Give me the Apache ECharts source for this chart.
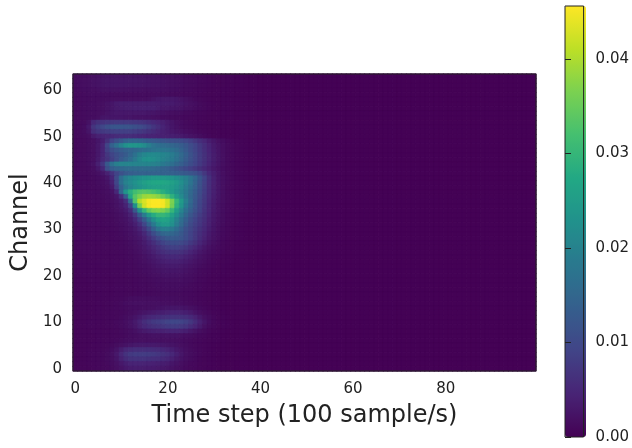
<!DOCTYPE html>
<html>
<head>
<meta charset="utf-8">
<title>Channel heatmap</title>
<script src="https://cdn.jsdelivr.net/npm/echarts@6/dist/echarts.min.js"></script>
<style>
html, body { margin: 0; padding: 0; background: #fff; }
#chart { width: 632px; height: 448px; }
</style>
</head>
<body>
<div id="chart"></div>
<script>
var barTicks = [0, 0.01, 0.02, 0.03, 0.04];
var barMax = 0.0456;
var valueUnit = 0.0001;
var tailValue = 1; // everything right of step 39 is flat background
var stepCount = 100;

// one row per channel, 63 first, steps 0..39 in valueUnit
var rows = [
[14,15,16,18,20,22,24,25,26,26,26,26,26,25,25,24,24,23,22,21,20,19,17,15,13,12,11,10,9,8,7,6,6,5,5,4,4,3,3,3],
[14,16,18,20,22,24,26,27,28,28,28,28,27,27,26,26,25,24,23,22,21,20,18,16,14,13,12,11,9,8,7,6,6,5,5,4,4,3,3,3],
[14,16,18,20,22,24,26,27,27,27,27,27,26,26,26,25,25,24,23,22,21,20,18,16,14,13,12,10,9,8,7,6,6,5,5,4,4,3,3,3],
[13,14,16,17,18,20,22,22,22,22,22,22,21,21,21,20,20,20,19,19,18,17,16,14,13,12,10,9,8,7,6,6,5,5,4,4,3,3,3,3],
[12,13,14,15,16,16,16,16,16,15,15,15,15,15,15,15,15,15,15,15,14,14,13,12,11,10,9,8,7,6,6,5,5,4,4,3,3,3,3,2],
[12,13,14,14,15,15,16,17,18,18,18,18,18,18,18,18,20,24,28,30,30,30,28,24,20,15,11,10,8,7,6,6,5,5,4,4,3,3,3,2],
[12,13,14,15,16,18,20,24,28,34,36,36,36,36,36,36,36,36,34,34,34,34,30,28,24,20,16,13,10,8,7,6,5,5,4,4,3,3,3,2],
[12,13,14,15,16,18,20,24,28,32,34,36,36,38,38,38,38,38,34,30,30,28,26,24,20,18,14,12,10,8,7,6,5,5,4,4,3,3,3,2],
[12,13,14,15,16,18,20,24,28,30,30,30,30,30,30,30,28,26,24,22,20,18,17,15,13,12,10,9,8,7,6,5,5,4,4,3,3,3,3,2],
[12,13,14,15,16,20,26,28,28,28,28,26,26,24,24,22,22,20,18,16,15,14,13,12,11,10,9,8,7,6,6,5,4,4,4,3,3,3,2,2],
[12,13,14,22,50,62,66,70,72,74,74,74,72,70,68,64,58,52,46,40,32,26,20,16,13,11,9,8,7,6,5,5,4,4,3,3,3,3,2,2],
[12,13,16,30,68,84,96,110,118,120,120,118,116,110,104,94,84,70,58,45,36,28,22,17,14,12,10,8,7,6,5,5,4,4,3,3,3,3,2,2],
[12,13,16,26,58,70,76,80,84,86,86,86,84,80,76,70,64,56,48,42,36,30,26,22,18,15,12,10,8,7,6,5,4,4,3,3,3,3,2,2],
[12,13,14,18,32,42,46,48,52,56,58,58,58,56,52,48,46,44,42,42,40,38,36,32,28,24,20,15,11,8,6,5,4,4,3,3,3,2,2,2],
[11,12,13,15,20,28,38,62,90,110,125,140,150,150,148,140,134,130,125,120,115,112,110,105,96,86,72,60,48,36,28,20,15,11,8,6,5,4,3,3],
[11,12,13,15,20,30,46,92,140,170,200,228,238,238,232,218,195,175,165,160,155,150,142,132,120,104,90,74,58,44,32,24,18,13,9,7,5,4,3,3],
[11,12,13,15,20,30,46,84,108,122,132,140,146,152,158,164,170,175,178,178,176,168,158,142,126,108,92,76,60,46,34,25,18,13,9,7,5,4,3,3],
[11,12,13,15,20,30,46,72,92,106,118,130,148,170,194,208,216,216,212,206,200,190,175,155,135,115,96,78,62,48,36,26,19,13,9,7,5,4,3,3],
[11,12,13,15,20,32,50,66,84,104,126,142,160,184,208,226,230,225,215,205,195,185,170,150,130,112,95,78,62,48,36,26,19,13,9,7,5,4,3,3],
[11,12,13,15,22,40,70,125,170,195,205,205,205,205,205,205,205,200,195,185,175,165,150,135,120,105,90,76,60,46,34,25,18,13,9,7,5,4,3,3],
[11,12,13,14,18,30,50,108,135,146,152,156,158,158,158,158,158,155,150,145,138,128,118,108,97,86,74,62,50,40,30,22,16,12,9,7,5,4,3,3],
[11,12,12,13,15,20,28,42,66,92,112,126,134,138,140,140,140,140,140,140,140,138,135,130,125,118,110,95,72,52,38,26,18,13,9,7,5,4,3,3],
[11,12,12,13,14,16,20,28,50,100,160,192,208,218,228,236,240,245,245,245,240,235,225,210,195,175,150,120,90,62,42,28,20,14,10,7,5,4,3,3],
[11,11,12,12,13,15,18,24,42,95,165,200,215,230,244,256,265,270,272,272,268,258,245,225,200,175,145,115,85,60,42,28,20,14,10,7,5,4,3,3],
[11,11,12,12,13,14,16,20,32,80,140,180,205,220,232,244,252,256,258,258,255,248,235,215,190,165,138,110,82,58,40,27,19,13,9,7,5,4,3,3],
[11,11,11,12,12,13,15,18,24,50,150,235,285,315,330,335,330,320,305,285,265,245,225,205,180,155,130,105,80,57,40,27,19,13,9,7,5,4,3,3],
[10,11,11,11,12,13,14,16,20,28,60,130,270,335,365,385,390,385,375,355,330,290,250,215,180,150,125,100,76,55,38,26,18,13,9,7,5,4,3,3],
[10,10,11,11,12,12,13,15,18,24,34,60,160,330,405,430,450,455,456,450,420,365,300,245,195,155,120,95,72,52,36,25,18,13,9,6,5,4,3,3],
[10,10,10,11,11,12,13,14,17,22,30,44,90,225,360,425,450,456,456,450,420,360,290,235,185,148,118,92,70,50,35,24,17,12,9,6,5,4,3,3],
[10,10,10,10,11,11,12,13,15,19,25,34,56,125,225,300,345,365,370,365,345,300,250,205,165,135,110,88,66,48,33,23,16,12,8,6,5,4,3,3],
[10,10,10,10,10,11,12,13,14,17,21,28,40,72,130,190,245,280,300,300,290,260,225,185,150,122,100,80,62,45,31,22,15,11,8,6,4,3,3,3],
[10,10,10,10,10,10,11,12,13,15,19,24,32,50,85,130,180,225,255,265,260,235,200,165,135,110,90,74,58,42,30,21,15,11,8,6,4,3,3,3],
[9,9,10,10,10,10,11,12,12,14,17,21,27,38,60,95,140,185,225,245,245,225,190,155,125,102,84,70,54,40,28,20,14,10,7,5,4,3,3,2],
[9,9,9,10,10,10,10,11,12,13,15,19,24,31,44,68,102,140,175,195,195,180,160,135,112,94,78,64,50,36,26,18,13,9,7,5,4,3,3,2],
[9,9,9,9,10,10,10,11,11,12,14,17,21,26,34,50,75,105,130,150,155,150,140,125,108,90,74,60,46,33,24,17,12,9,6,5,4,3,3,2],
[9,9,9,9,9,10,10,10,11,12,13,15,19,23,29,40,58,78,98,115,125,128,125,118,105,88,72,56,42,30,22,16,11,8,6,5,4,3,2,2],
[9,9,9,9,9,9,10,10,11,11,12,14,17,21,26,34,46,60,76,90,100,105,105,100,90,76,62,48,36,26,19,14,10,8,6,4,3,3,2,2],
[8,9,9,9,9,9,9,10,10,11,12,13,15,19,24,30,38,48,60,72,80,85,85,80,72,60,48,38,28,21,16,12,9,7,5,4,3,3,2,2],
[8,8,9,9,9,9,9,9,10,10,11,12,14,17,21,26,32,40,50,58,64,66,66,62,55,46,37,29,22,17,13,10,8,6,5,4,3,2,2,2],
[8,8,8,9,9,9,9,9,9,10,11,12,13,15,18,22,27,33,40,46,50,52,52,48,42,36,29,23,18,14,11,9,7,5,4,3,3,2,2,2],
[8,8,8,8,8,9,9,9,9,10,10,11,12,14,16,19,23,28,33,38,41,42,42,38,34,29,24,19,15,12,9,7,6,5,4,3,3,2,2,2],
[8,8,8,8,8,8,9,9,9,9,10,11,12,13,15,17,20,24,28,31,33,34,34,31,27,23,19,16,13,10,8,6,5,4,3,3,2,2,2,2],
[7,8,8,8,8,8,8,8,9,9,10,11,12,13,14,16,18,21,24,26,27,28,28,26,23,20,16,13,11,9,7,6,5,4,3,3,2,2,2,2],
[7,7,8,8,8,8,8,8,9,9,9,10,11,12,13,14,16,18,20,22,23,24,24,22,20,17,14,12,10,8,6,5,4,4,3,2,2,2,2,2],
[7,7,7,8,8,8,8,8,8,9,9,10,10,11,12,13,14,15,17,18,19,20,20,19,17,15,13,11,9,7,6,5,4,3,3,2,2,2,2,2],
[7,7,7,7,8,8,8,8,8,9,9,10,10,11,12,12,13,14,15,16,17,17,17,16,15,13,11,10,8,7,5,4,4,3,3,2,2,2,2,2],
[7,7,7,7,7,8,8,8,8,9,9,9,10,10,11,12,13,13,14,15,15,15,15,14,13,12,10,9,7,6,5,4,3,3,2,2,2,2,2,2],
[7,7,7,7,7,7,8,8,8,9,9,10,10,11,11,12,12,13,13,14,14,14,14,13,12,11,9,8,7,6,5,4,3,3,2,2,2,2,2,1],
[7,7,7,7,7,7,8,8,9,10,11,13,15,16,17,17,17,17,16,16,16,16,15,14,13,11,10,8,7,6,5,4,3,3,2,2,2,2,1,1],
[7,7,7,7,7,8,8,9,10,11,13,16,18,20,20,20,20,20,19,18,18,18,17,16,14,12,10,9,7,6,5,4,3,3,2,2,2,2,1,1],
[7,7,7,7,7,8,8,9,10,11,12,14,15,16,17,18,19,20,22,24,26,28,28,26,24,20,16,12,9,7,5,4,3,3,2,2,2,2,1,1],
[7,7,7,7,7,8,8,8,9,10,11,13,15,18,22,26,30,32,36,38,42,44,44,42,38,32,24,18,13,10,7,5,4,3,3,2,2,2,1,1],
[7,7,7,7,8,8,8,9,9,10,12,15,19,25,33,42,48,52,56,60,63,65,65,63,60,52,42,30,20,14,9,6,5,4,3,2,2,2,1,1],
[7,7,7,8,8,8,8,9,10,12,14,18,24,32,44,58,68,75,80,86,92,96,96,92,84,72,56,40,26,16,10,7,5,4,3,2,2,2,1,1],
[7,7,7,8,8,8,8,9,10,11,14,17,22,29,40,50,57,62,66,71,76,78,78,74,68,56,44,32,20,13,9,6,5,4,3,2,2,2,1,1],
[7,7,7,7,8,8,8,8,9,10,12,14,17,21,27,32,36,38,40,42,44,46,46,42,38,30,24,18,13,9,7,5,4,3,3,2,2,2,1,1],
[7,7,7,7,7,8,8,8,9,10,11,13,15,17,19,20,21,22,22,22,23,23,23,21,18,16,13,11,9,7,5,4,3,3,2,2,2,1,1,1],
[7,7,7,7,7,8,8,9,9,11,13,15,17,18,19,20,20,20,20,20,20,19,18,16,14,12,10,9,7,6,5,4,3,2,2,2,2,1,1,1],
[7,7,7,7,8,8,9,10,12,15,19,24,28,31,32,32,32,32,31,30,28,25,22,18,15,12,10,8,7,5,4,3,3,2,2,2,1,1,1,1],
[7,7,7,8,8,9,10,12,16,24,36,48,54,58,58,58,58,56,54,50,44,38,30,24,18,14,11,9,7,5,4,3,3,2,2,2,1,1,1,1],
[7,7,7,8,9,10,11,14,20,30,48,66,76,80,80,80,78,75,70,66,60,50,38,28,20,15,12,9,7,5,4,3,3,2,2,2,1,1,1,1],
[7,7,7,8,9,10,11,14,18,26,42,56,64,66,66,65,63,60,58,54,49,40,31,24,18,14,11,8,6,5,4,3,3,2,2,2,1,1,1,1],
[7,7,7,8,8,9,10,12,15,21,30,38,44,46,46,44,43,41,39,37,34,28,23,18,14,11,9,7,6,5,4,3,2,2,2,1,1,1,1,1],
[7,7,7,7,8,9,10,11,14,18,24,30,34,36,36,35,34,33,31,29,26,22,18,15,12,10,8,7,5,4,4,3,2,2,2,1,1,1,1,1]
];

var viridis = ['#440154','#482475','#414487','#355f8d','#2a788e','#21918c','#22a884','#44bf70','#7ad151','#bddf26','#fde725'];
var inkColor = '#222';

var timeSteps = [];
for (var i = 0; i < stepCount; i++) timeSteps.push(String(i));
var channels = [];
for (var c = 0; c < rows.length; c++) channels.push(String(c));

// every cell carries its own colour so a same coloured stroke can close the seams
var cells = [];
rows.forEach(function (row, r) {
    var channel = rows.length - 1 - r;
    for (var t = 0; t < stepCount; t++) {
        var v = (t < row.length ? row[t] : tailValue) * valueUnit;
        var col = echarts.color.lerp(v / barMax, viridis);
        cells.push({
            value: [t, channel, v],
            itemStyle: { color: col, borderColor: col, borderWidth: 0.6 }
        });
    }
});

var myChart = echarts.init(document.getElementById('chart'));

var option = {
    animation: false,
    textStyle: { fontFamily: 'DejaVu Sans' },
    grid: [
        { left: 73, top: 74, width: 463, height: 297, show: true, backgroundColor: 'transparent', borderColor: inkColor, borderWidth: 1, z: 5 },
        { left: 565, top: 6, width: 21, height: 431, show: true, backgroundColor: 'transparent', borderColor: inkColor, borderWidth: 1, z: 5 }
    ],
    xAxis: [
        {
            type: 'category',
            gridIndex: 0,
            data: timeSteps,
            name: 'Time step (100 sample/s)',
            nameLocation: 'middle',
            nameGap: 33,
            nameMoveOverlap: false,
            nameTextStyle: { fontSize: 24, color: inkColor },
            axisLine: { show: false },
            axisTick: { interval: 19, alignWithLabel: true, length: 6, lineStyle: { color: inkColor } },
            axisLabel: { interval: 19, fontSize: 15, color: inkColor, margin: 11 },
            splitLine: { show: false }
        },
        { type: 'value', gridIndex: 1, min: 0, max: 1, show: false }
    ],
    yAxis: [
        {
            type: 'category',
            gridIndex: 0,
            data: channels,
            name: 'Channel',
            nameLocation: 'middle',
            nameGap: 40,
            nameMoveOverlap: false,
            nameTextStyle: { fontSize: 24, color: inkColor },
            axisLine: { show: false },
            axisTick: { interval: 9, alignWithLabel: true, length: 6, lineStyle: { color: inkColor } },
            axisLabel: { interval: 9, fontSize: 15, color: inkColor, margin: 11 },
            splitLine: { show: false }
        },
        {
            type: 'value',
            gridIndex: 1,
            position: 'right',
            min: barTicks[0],
            max: barMax,
            interval: 0.01,
            z: 6,
            axisLine: { show: false },
            axisTick: { length: 6, lineStyle: { color: inkColor } },
            axisLabel: {
                fontSize: 15,
                color: inkColor,
                margin: 12,
                showMaxLabel: false,
                formatter: function (v) { return v.toFixed(2); }
            },
            splitLine: { show: false }
        }
    ],
    visualMap: {
        type: 'continuous',
        min: 0,
        max: barMax,
        seriesIndex: [],
        calculable: false,
        left: 565,
        top: 6,
        padding: 0,
        itemWidth: 21,
        itemHeight: 431,
        text: null,
        showLabel: false,
        z: 1,
        inRange: { color: viridis }
    },
    series: [{
        type: 'heatmap',
        xAxisIndex: 0,
        yAxisIndex: 0,
        data: cells,
        silent: true,
        progressive: 0,
        z: 1,
        emphasis: { disabled: true }
    }]
};

myChart.setOption(option);
window.addEventListener('resize', function () {
    myChart.resize();
});
</script>
</body>
</html>
